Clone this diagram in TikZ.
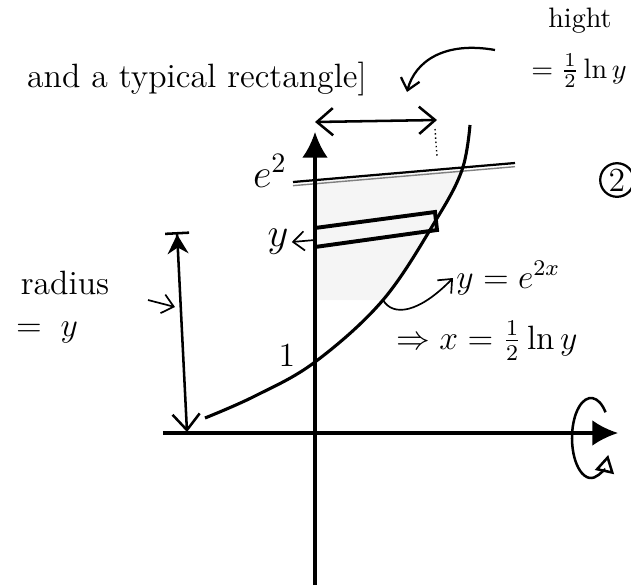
\documentclass[tikz,border=0pt]{standalone}
\usetikzlibrary{arrows.meta}
\begin{document}
\begin{tikzpicture}[>=latex, x=0.25cm, y=0.25cm,
  axis/.style={line width=1.1pt, -{Latex[length=3.2mm,width=3.2mm]}},
  hand/.style={font=\large, inner sep=1pt},
  thinarrow/.style={line width=0.6pt, -{Straight Barb[length=1.4mm,width=2.4mm]}}]
\useasboundingbox (-15.75,-7.65) rectangle (15.8,21.65);
% points
\coordinate (xstart) at (-7.6,0);
\coordinate (xtip) at (15.15,0);
\coordinate (ybot) at (0,-7.6);
\coordinate (ytip) at (0,15.05);
% shaded region
\fill[gray!8] (0,6.65) -- plot[smooth] coordinates {(3.4,6.65) (6.05,10.65) (7.35,13.15)} -- (0,12.64) -- cycle;
% line y = e^2
\coordinate (e2a) at (-1.1,12.55);
\coordinate (e2b) at (10,13.5);
\draw[line width=0.8pt] (e2a) -- (e2b);
\draw[gray, line width=0.5pt] ([yshift=-1.3pt]e2a) -- ([yshift=-1.3pt]e2b);
% typical rectangle
\draw[line width=1.4pt] (0,9.3) -- (6.1,10.15) -- (6,11.05) -- (0,10.25) -- cycle;
% curve
\draw[line width=1.1pt] plot[smooth, tension=0.6] coordinates {(-5.5,0.75) (-3,1.85) (0,3.55) (3.4,6.65) (6.05,10.65) (7.35,13.15) (7.75,15.4)};
% axes
\draw[axis] (xstart) -- (xtip);
\draw[axis] (ybot) -- (ytip);
% axis labels
\node[font=\Large, inner sep=1pt] (e2lab) at (-2.25,13.1) {$e^2$};
\node[font=\Large, inner sep=1pt] (ylab) at (-1.85,9.55) {$y$};
\coordinate (yaxis) at (0,9.65);
\draw[thinarrow] (yaxis) -- (ylab.east);
\node[hand] (one) at (-1.4,3.85) {$1$};
% radius
\coordinate (radtop) at (-6.9,10.05);
\coordinate (radbot) at (-6.4,0.05);
\draw[line width=0.9pt, {Bar[width=3mm]Stealth[length=2.4mm,width=2.6mm]}-{Straight Barb[length=2mm,width=3.4mm]}] (radtop) -- (radbot);
\node[hand] (radlab) at (-12.5,7.5) {radius};
\node[hand] (radeq) at (-13.4,5.0) {$=\;y$};
\coordinate (radfrom) at (-8.35,6.65);
\coordinate (radptr) at (-7.0,6.3);
\draw[thinarrow] (radfrom) -- (radptr);
% width of the rectangle
\coordinate (wl) at (0,15.55);
\coordinate (wr) at (6.1,15.65);
\draw[line width=0.9pt, {Straight Barb[length=2mm,width=3.4mm]}-{Straight Barb[length=2mm,width=3.4mm]}] (wl) -- (wr);
\draw[densely dotted, line width=0.5pt] (6,15.2) -- (6.1,13.8);
% hight
\node[inner sep=1pt] (hight) at (13.25,20.6) {hight};
\node[inner sep=1pt] (hightval) at (13.2,18.1) {$=\frac12\ln y$};
\coordinate (hfrom) at (9,19.15);
\coordinate (hto) at (4.6,17.05);
\draw[thinarrow, line width=0.8pt] (hfrom) .. controls (6.5,19.6) and (5,18.6) .. (hto);
% curve labels
\coordinate (oncurve) at (3.4,6.65);
\node[hand, anchor=west] (curvelab) at (6.9,7.75) {$y=e^{2x}$};
\draw[thinarrow] (oncurve) .. controls (3.9,5.8) and (5.2,6.0) .. (curvelab.west);
\node[hand, anchor=west] (invlab) at (3.9,4.6) {$\Rightarrow x=\frac12\ln y$};
% caption
\node[font=\large] (caption) at (-5.9,17.7) {and a typical rectangle]};
% rotation about the x-axis
\coordinate (rotc) at (13.8,-0.25);
\draw[line width=0.9pt, -{Triangle[open,length=2.2mm,width=2.4mm]}] (rotc) ++(40:0.95 and 2.0) arc[start angle=40, end angle=335, x radius=0.95, y radius=2.0];
% number
\node[draw, circle, line width=0.8pt, minimum size=4.2mm, inner sep=0pt, font=\large] (two) at (15.1,12.65) {2};
\end{tikzpicture}
\end{document}
